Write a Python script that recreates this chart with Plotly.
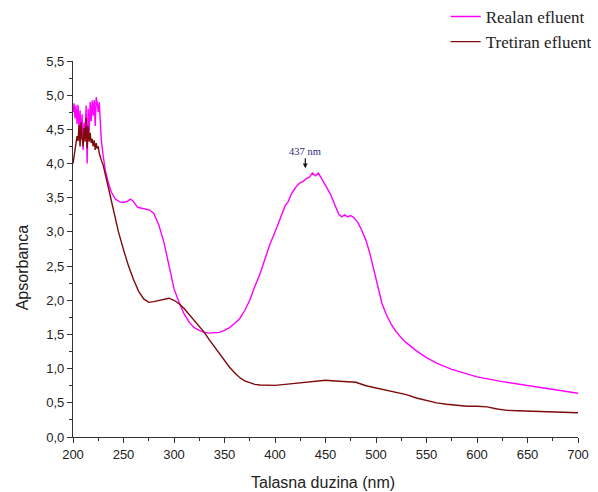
import plotly.graph_objects as go

# Realan efluent (untreated effluent) absorbance spectrum
raw_nm = [200, 201, 202, 203, 204, 205, 206, 207, 208, 209, 210, 211, 212, 213, 214,
          215, 216, 217, 218, 219, 220, 221, 222, 223, 224, 225, 226, 227, 228, 230,
          232, 235, 238, 242, 246, 250, 254, 257, 260, 264, 268, 272, 276, 280, 285,
          290, 295, 300, 305, 310, 315, 320, 325, 330, 335, 340, 345, 350, 355, 360,
          365, 370, 375, 380, 385, 390, 395, 400, 405, 410, 413, 416, 419, 422, 425,
          428, 431, 434, 437, 440, 443, 446, 450, 455, 460, 463, 466, 469, 472, 475,
          478, 482, 486, 490, 494, 498, 502, 506, 510, 515, 520, 525, 530, 540, 550,
          560, 575, 590, 600, 625, 650, 675, 700]
raw_abs = [4.75, 4.88, 4.66, 4.85, 4.58, 4.86, 4.50, 4.78, 4.35, 4.72, 4.20, 4.60, 4.45, 4.85, 4.00,
           4.80, 4.45, 4.90, 4.62, 4.92, 4.70, 4.93, 4.55, 4.97, 4.88, 4.75, 4.90, 4.50, 4.35, 4.10,
           3.90, 3.72, 3.58, 3.48, 3.44, 3.43, 3.45, 3.48, 3.44, 3.36, 3.35, 3.34, 3.32, 3.27, 3.10,
           2.85, 2.50, 2.17, 1.97, 1.80, 1.68, 1.60, 1.56, 1.53, 1.52, 1.52, 1.53, 1.56, 1.60, 1.66,
           1.73, 1.85, 2.00, 2.20, 2.38, 2.60, 2.82, 3.00, 3.18, 3.38, 3.44, 3.55, 3.62, 3.68, 3.72,
           3.74, 3.78, 3.80, 3.86, 3.82, 3.86, 3.79, 3.68, 3.55, 3.38, 3.26, 3.22, 3.25, 3.22, 3.24,
           3.21, 3.14, 3.02, 2.88, 2.68, 2.45, 2.18, 1.95, 1.80, 1.65, 1.54, 1.45, 1.38, 1.26, 1.16,
           1.08, 0.99, 0.92, 0.88, 0.81, 0.75, 0.70, 0.64]

# Tretiran efluent (treated effluent) absorbance spectrum
trt_nm = [200, 201, 202, 203, 204, 205, 206, 207, 208, 209, 210, 211, 212, 213, 214,
          215, 216, 217, 218, 219, 220, 221, 222, 223, 224, 225, 226, 228, 230, 235,
          240, 245, 250, 255, 260, 265, 270, 275, 280, 285, 290, 295, 300, 305, 310,
          315, 320, 325, 330, 335, 340, 345, 350, 355, 360, 365, 370, 375, 380, 385,
          390, 395, 400, 410, 420, 430, 440, 450, 460, 470, 480, 490, 500, 510, 520,
          530, 540, 550, 560, 570, 580, 590, 600, 610, 620, 630, 640, 650, 660, 670,
          680, 690, 700]
trt_abs = [4.00, 4.12, 4.22, 4.30, 4.40, 4.33, 4.56, 4.25, 4.60, 4.38, 4.25, 4.52, 4.32, 4.67, 4.22,
           4.55, 4.32, 4.45, 4.30, 4.36, 4.25, 4.34, 4.20, 4.30, 4.22, 4.25, 4.15, 4.05, 3.97, 3.65,
           3.32, 3.00, 2.74, 2.50, 2.30, 2.13, 2.02, 1.97, 1.98, 2.00, 2.02, 2.03, 2.00, 1.95, 1.88,
           1.79, 1.70, 1.61, 1.53, 1.42, 1.32, 1.22, 1.12, 1.02, 0.94, 0.87, 0.82, 0.79, 0.77, 0.76,
           0.755, 0.75, 0.755, 0.77, 0.785, 0.80, 0.82, 0.83, 0.82, 0.81, 0.80, 0.75, 0.72, 0.69, 0.66,
           0.62, 0.57, 0.53, 0.50, 0.48, 0.46, 0.45, 0.45, 0.44, 0.41, 0.39, 0.385, 0.38, 0.375, 0.37,
           0.365, 0.36, 0.355]

peak_nm = 430
peak_abs = 3.93
peak_label = "437 nm"

fig = go.Figure()
fig.add_trace(go.Scatter(x=raw_nm, y=raw_abs, mode="lines", name="Realan efluent",
                         line=dict(color="#ff00ff", width=1.4)))
fig.add_trace(go.Scatter(x=trt_nm, y=trt_abs, mode="lines", name="Tretiran efluent",
                         line=dict(color="#7f0a0a", width=1.4)))

fig.add_annotation(x=peak_nm, y=peak_abs, xref="x", yref="y", text=peak_label,
                   showarrow=True, arrowhead=2, arrowsize=0.8, arrowwidth=1.2,
                   arrowcolor="#111111", ax=0, ay=-17,
                   font=dict(family="Liberation Serif", size=10.5, color="#2b2b80"))

title_font = dict(family="Liberation Sans", size=16, color="#222222")
# axis titles placed as paper annotations
fig.add_annotation(x=-0.1, y=0.45, xref="paper", yref="paper", text="Apsorbanca",
                   showarrow=False, textangle=-90, xanchor="center", yanchor="middle",
                   font=title_font)
fig.add_annotation(x=0.495, y=-0.12, xref="paper", yref="paper", text="Talasna duzina (nm)",
                   showarrow=False, xanchor="center", yanchor="middle", font=title_font)

axis_common = dict(showline=True, linecolor="#333333", linewidth=1.2, mirror=False,
                   showgrid=False, zeroline=False, ticks="outside", ticklen=5,
                   tickcolor="#333333", tickwidth=1.2,
                   tickfont=dict(family="Liberation Sans", size=13, color="#222222"))

fig.update_layout(
    width=598, height=492,
    margin=dict(l=73, r=20, t=61, b=55, autoexpand=False),
    paper_bgcolor="white", plot_bgcolor="white",
    separators=", ",
    showlegend=True,
    legend=dict(x=0.738, y=1.165, xanchor="left", yanchor="top",
                bgcolor="rgba(0,0,0,0)", tracegroupgap=0,
                font=dict(family="Liberation Serif", size=17, color="#222222")),
    xaxis=dict(range=[200, 700], tickvals=list(range(200, 701, 50)),
               minor=dict(ticks="outside", ticklen=3, dtick=25, tick0=200,
                          tickcolor="#333333", tickwidth=1),
               **axis_common),
    yaxis=dict(range=[0, 5.5], tickvals=[i * 0.5 for i in range(12)], tickformat=".1f",
               minor=dict(ticks="outside", ticklen=3, dtick=0.25, tick0=0,
                          tickcolor="#333333", tickwidth=1),
               **axis_common),
)

fig.write_html("out.html")
